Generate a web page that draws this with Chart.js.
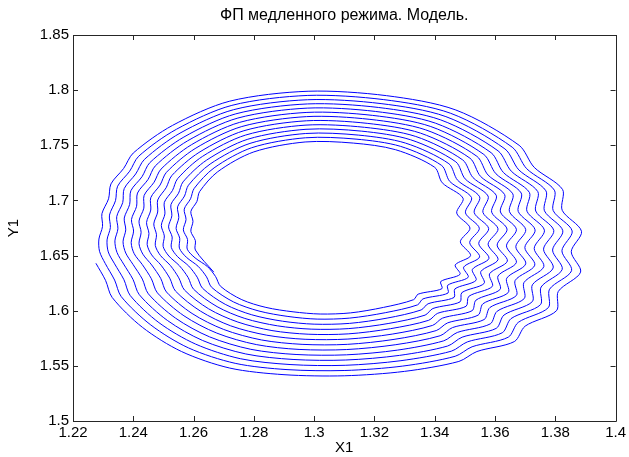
<!DOCTYPE html>
<html>
<head>
<meta charset="utf-8">
<script src="https://cdn.jsdelivr.net/npm/chart.js@4.4.1/dist/chart.umd.min.js"></script>
<style>
  html, body { margin: 0; padding: 0; background: #ffffff; }
  #wrap { width: 629px; height: 457px; }
</style>
</head>
<body>
<div id="wrap"><canvas id="c" width="629" height="457"></canvas></div>
<script>
// ---- Data ----
const chartTitle = 'ФП медленного режима. Модель.';
const xAxisName = 'X1';
const yAxisName = 'Y1';

const xTickValues = [1.22, 1.24, 1.26, 1.28, 1.30, 1.32, 1.34, 1.36, 1.38, 1.40];
const xTickLabels = ['1.22', '1.24', '1.26', '1.28', '1.3', '1.32', '1.34', '1.36', '1.38', '1.4'];
const yTickValues = [1.50, 1.55, 1.60, 1.65, 1.70, 1.75, 1.80, 1.85];
const yTickLabels = ['1.5', '1.55', '1.6', '1.65', '1.7', '1.75', '1.8', '1.85'];

// trajectory X1 (one line per turn of the spiral, outer to inner)
const X1 = [
  1.2276,1.2308,1.2330,1.2430,1.2560,1.2720,1.2900,1.3100,1.3300,1.3480,1.3540,1.3664,1.3700,1.3804,1.3810,1.3884,1.3853,1.3887,1.3823,1.3824,1.3730,1.3680,1.3470,1.3240,1.2980,1.2720,1.2530,1.2400,1.2368,1.2326,1.2318,1.2296,1.2298,1.2286,1.2288,
  1.2307,1.2338,1.2360,1.2458,1.2583,1.2738,1.2910,1.3102,1.3294,1.3468,1.3524,1.3644,1.3677,1.3777,1.3781,1.3854,1.3822,1.3856,1.3793,1.3797,1.3705,1.3657,1.3453,1.3231,1.2979,1.2727,1.2543,1.2418,1.2388,1.2348,1.2341,1.2321,1.2324,1.2313,1.2317,
  1.2338,1.2369,1.2390,1.2485,1.2607,1.2755,1.2920,1.3103,1.3288,1.3455,1.3508,1.3624,1.3653,1.3751,1.3753,1.3823,1.3791,1.3825,1.3764,1.3769,1.3679,1.3633,1.3437,1.3222,1.2978,1.2733,1.2555,1.2437,1.2408,1.2370,1.2365,1.2345,1.2349,1.2339,1.2346,
  1.2368,1.2399,1.2420,1.2513,1.2630,1.2773,1.2930,1.3105,1.3283,1.3443,1.3491,1.3604,1.3630,1.3724,1.3724,1.3793,1.3761,1.3795,1.3735,1.3742,1.3654,1.3610,1.3420,1.3213,1.2978,1.2740,1.2568,1.2455,1.2429,1.2392,1.2388,1.2370,1.2375,1.2366,1.2375,
  1.2399,1.2430,1.2450,1.2540,1.2653,1.2790,1.2940,1.3107,1.3277,1.3430,1.3475,1.3584,1.3607,1.3697,1.3696,1.3762,1.3730,1.3764,1.3706,1.3714,1.3628,1.3587,1.3403,1.3203,1.2977,1.2747,1.2580,1.2473,1.2449,1.2414,1.2411,1.2394,1.2401,1.2393,1.2403,
  1.2430,1.2460,1.2480,1.2568,1.2677,1.2808,1.2950,1.3108,1.3271,1.3418,1.3459,1.3564,1.3583,1.3671,1.3667,1.3732,1.3699,1.3733,1.3677,1.3687,1.3603,1.3563,1.3387,1.3194,1.2976,1.2753,1.2593,1.2492,1.2469,1.2436,1.2435,1.2419,1.2426,1.2419,1.2432,
  1.2461,1.2491,1.2510,1.2595,1.2700,1.2825,1.2960,1.3110,1.3265,1.3405,1.3443,1.3544,1.3560,1.3644,1.3639,1.3702,1.3669,1.3702,1.3648,1.3659,1.3577,1.3540,1.3370,1.3185,1.2975,1.2760,1.2605,1.2510,1.2489,1.2458,1.2458,1.2444,1.2452,1.2446,1.2461,
  1.2492,1.2521,1.2540,1.2623,1.2723,1.2843,1.2970,1.3112,1.3259,1.3393,1.3426,1.3524,1.3537,1.3617,1.3610,1.3671,1.3638,1.3671,1.3618,1.3632,1.3552,1.3517,1.3353,1.3176,1.2974,1.2767,1.2618,1.2528,1.2509,1.2481,1.2481,1.2468,1.2477,1.2473,1.2490,
  1.2523,1.2551,1.2570,1.2650,1.2747,1.2860,1.2980,1.3113,1.3253,1.3380,1.3410,1.3504,1.3513,1.3591,1.3582,1.3641,1.3607,1.3640,1.3589,1.3604,1.3527,1.3493,1.3337,1.3167,1.2973,1.2773,1.2630,1.2547,1.2530,1.2503,1.2505,1.2493,1.2503,1.2499,1.2518,
  1.2553,1.2582,1.2600,1.2678,1.2770,1.2878,1.2990,1.3115,1.3248,1.3368,1.3394,1.3484,1.3490,1.3564,1.3553,1.3610,1.3577,1.3610,1.3560,1.3577,1.3501,1.3470,1.3320,1.3158,1.2973,1.2780,1.2643,1.2565,1.2550,1.2525,1.2528,1.2517,1.2529,1.2526,1.2547,
  1.2584,1.2612,1.2630,1.2705,1.2793,1.2895,1.3000,1.3117,1.3242,1.3355,1.3378,1.3464,1.3467,1.3537,1.3525,1.3580,1.3546,1.3579,1.3531,1.3549,1.3476,1.3447,1.3303,1.3148,1.2972,1.2787,1.2655,1.2583,1.2570,1.2547,1.2551,1.2542,1.2554,1.2553,1.2576,
  1.2615,1.2643,1.2660,1.2733,1.2817,1.2913,1.3010,1.3118,1.3236,1.3343,1.3361,1.3444,1.3443,1.3511,1.3496,1.3549,1.3516,1.3548,1.3502,1.3522,1.3450,1.3423,1.3287,1.3139,1.2971,1.2793,1.2668,1.2602,1.2590,1.2569,1.2575,1.2566,1.2580,1.2579,1.2605,
  1.2646,1.2673,1.2690,1.2760,1.2840,1.2930,1.3020,1.3120,1.3230,1.3330,1.3345,1.3424,1.3420,1.3484,1.3468,1.3519,1.3485,1.3517,1.3473,1.3494,1.3425,1.3400,1.3270,1.3130,1.2970,1.2800,1.2680,1.2620,1.2611,1.2591,1.2598,1.2591,1.2606,1.2606,
  1.2667
];

// trajectory Y1
const Y1 = [
  1.6430,1.6275,1.6120,1.5850,1.5630,1.5480,1.5420,1.5410,1.5450,1.5540,1.5630,1.5720,1.5860,1.6000,1.6175,1.6350,1.6535,1.6720,1.6910,1.7100,1.7300,1.7500,1.7820,1.7950,1.7990,1.7900,1.7680,1.7430,1.7290,1.7150,1.7015,1.6880,1.6765,1.6650,1.6539,
  1.6428,1.6278,1.6128,1.5871,1.5663,1.5523,1.5466,1.5458,1.5498,1.5587,1.5673,1.5760,1.5894,1.6028,1.6195,1.6363,1.6543,1.6723,1.6908,1.7093,1.7288,1.7483,1.7790,1.7914,1.7952,1.7862,1.7645,1.7401,1.7265,1.7129,1.6998,1.6867,1.6754,1.6642,1.6533,
  1.6425,1.6281,1.6137,1.5892,1.5697,1.5565,1.5512,1.5505,1.5547,1.5633,1.5717,1.5800,1.5928,1.6055,1.6215,1.6375,1.6550,1.6725,1.6906,1.7087,1.7277,1.7467,1.7760,1.7878,1.7913,1.7823,1.7610,1.7372,1.7240,1.7108,1.6981,1.6853,1.6743,1.6633,1.6528,
  1.6423,1.6284,1.6145,1.5912,1.5730,1.5608,1.5558,1.5553,1.5595,1.5680,1.5760,1.5840,1.5961,1.6083,1.6235,1.6388,1.6558,1.6728,1.6904,1.7080,1.7265,1.7450,1.7730,1.7843,1.7875,1.7785,1.7575,1.7343,1.7215,1.7088,1.6964,1.6840,1.6733,1.6625,1.6523,
  1.6420,1.6287,1.6153,1.5933,1.5763,1.5650,1.5603,1.5600,1.5643,1.5727,1.5803,1.5880,1.5995,1.6110,1.6255,1.6400,1.6565,1.6730,1.6902,1.7073,1.7253,1.7433,1.7700,1.7807,1.7837,1.7747,1.7540,1.7313,1.7190,1.7067,1.6947,1.6827,1.6722,1.6617,1.6517,
  1.6418,1.6290,1.6162,1.5954,1.5797,1.5693,1.5649,1.5648,1.5692,1.5773,1.5847,1.5920,1.6029,1.6138,1.6275,1.6413,1.6573,1.6733,1.6900,1.7067,1.7242,1.7417,1.7670,1.7771,1.7798,1.7708,1.7505,1.7284,1.7165,1.7046,1.6930,1.6813,1.6711,1.6608,1.6512,
  1.6415,1.6293,1.6170,1.5975,1.5830,1.5735,1.5695,1.5695,1.5740,1.5820,1.5890,1.5960,1.6063,1.6165,1.6295,1.6425,1.6580,1.6735,1.6898,1.7060,1.7230,1.7400,1.7640,1.7735,1.7760,1.7670,1.7470,1.7255,1.7140,1.7025,1.6913,1.6800,1.6700,1.6600,1.6506,
  1.6413,1.6295,1.6178,1.5996,1.5863,1.5778,1.5741,1.5743,1.5788,1.5867,1.5933,1.6000,1.6096,1.6193,1.6315,1.6438,1.6588,1.6738,1.6895,1.7053,1.7218,1.7383,1.7610,1.7699,1.7722,1.7632,1.7435,1.7226,1.7115,1.7004,1.6895,1.6787,1.6689,1.6592,1.6501,
  1.6410,1.6298,1.6187,1.6017,1.5897,1.5820,1.5787,1.5790,1.5837,1.5913,1.5977,1.6040,1.6130,1.6220,1.6335,1.6450,1.6595,1.6740,1.6893,1.7047,1.7207,1.7367,1.7580,1.7663,1.7683,1.7593,1.7400,1.7197,1.7090,1.6983,1.6878,1.6773,1.6678,1.6583,1.6496,
  1.6408,1.6301,1.6195,1.6037,1.5930,1.5863,1.5833,1.5838,1.5885,1.5960,1.6020,1.6080,1.6164,1.6248,1.6355,1.6463,1.6603,1.6743,1.6891,1.7040,1.7195,1.7350,1.7550,1.7628,1.7645,1.7555,1.7365,1.7168,1.7065,1.6963,1.6861,1.6760,1.6668,1.6575,1.6490,
  1.6405,1.6304,1.6203,1.6058,1.5963,1.5905,1.5878,1.5885,1.5933,1.6007,1.6063,1.6120,1.6198,1.6275,1.6375,1.6475,1.6610,1.6745,1.6889,1.7033,1.7183,1.7333,1.7520,1.7592,1.7607,1.7517,1.7330,1.7138,1.7040,1.6942,1.6844,1.6747,1.6657,1.6567,1.6485,
  1.6403,1.6307,1.6212,1.6079,1.5997,1.5948,1.5924,1.5933,1.5982,1.6053,1.6107,1.6160,1.6231,1.6303,1.6395,1.6488,1.6618,1.6748,1.6887,1.7027,1.7172,1.7317,1.7490,1.7556,1.7568,1.7478,1.7295,1.7109,1.7015,1.6921,1.6827,1.6733,1.6646,1.6558,1.6479,
  1.6400,1.6310,1.6220,1.6100,1.6030,1.5990,1.5970,1.5980,1.6030,1.6100,1.6150,1.6200,1.6265,1.6330,1.6415,1.6500,1.6625,1.6750,1.6885,1.7020,1.7160,1.7300,1.7460,1.7520,1.7530,1.7440,1.7260,1.7080,1.6990,1.6900,1.6810,1.6720,1.6635,1.6550,
  1.6350
];

// ---- Chart ----
const nPts = Math.min(X1.length, Y1.length);
const points = X1.slice(0, nPts).map((x, i) => ({ x: x, y: Y1[i] }));
const FONT = '"Liberation Sans", Arial, sans-serif';

const boxPlugin = {
  id: 'matlabBox',
  afterDraw(chart) {
    const ctx = chart.ctx;
    const a = chart.chartArea;
    const xs = chart.scales.x, ys = chart.scales.y;
    ctx.save();
    ctx.strokeStyle = '#262626';
    ctx.lineWidth = 1;
    ctx.beginPath();
    ctx.rect(Math.round(a.left) + 0.5, Math.round(a.top) + 0.5,
             Math.round(a.right - a.left), Math.round(a.bottom - a.top));
    ctx.stroke();
    const tl = 5;
    ctx.beginPath();
    xTickValues.forEach(v => {
      const px = Math.round(xs.getPixelForValue(v)) + 0.5;
      ctx.moveTo(px, a.bottom); ctx.lineTo(px, a.bottom - tl);
      ctx.moveTo(px, a.top); ctx.lineTo(px, a.top + tl);
    });
    yTickValues.forEach(v => {
      const py = Math.round(ys.getPixelForValue(v)) + 0.5;
      ctx.moveTo(a.left, py); ctx.lineTo(a.left + tl, py);
      ctx.moveTo(a.right, py); ctx.lineTo(a.right - tl, py);
    });
    ctx.stroke();
    ctx.restore();
  }
};

new Chart(document.getElementById('c'), {
  type: 'scatter',
  data: {
    datasets: [{
      data: points,
      showLine: true,
      borderColor: '#0000ff',
      borderWidth: 1,
      pointRadius: 0,
      pointHoverRadius: 0,
      tension: 0.3,
      fill: false
    }]
  },
  options: {
    responsive: false,
    animation: false,
    events: [],
    layout: { padding: { left: 0, right: 12, top: 0, bottom: 0 } },
    plugins: {
      legend: { display: false },
      tooltip: { enabled: false },
      title: { display: false }
    },
    scales: {
      x: {
        type: 'linear',
        min: 1.22, max: 1.40,
        afterBuildTicks: (s) => { s.ticks = xTickValues.map(v => ({ value: v })); },
        afterFit: (s) => { s.height = 36; },
        grid: { display: false, drawTicks: false },
        border: { display: false },
        ticks: {
          color: '#000000',
          padding: 3,
          maxRotation: 0,
          autoSkip: false,
          font: { family: FONT, size: 15 },
          callback: (v, i) => xTickLabels[i]
        },
        title: {
          display: true, text: xAxisName, color: '#000000',
          font: { family: FONT, size: 15 },
          padding: { top: 0, bottom: 0 }
        }
      },
      xTop: {
        type: 'linear',
        position: 'top',
        min: 1.22, max: 1.40,
        afterFit: (s) => { s.height = 35; },
        grid: { display: false, drawTicks: false },
        border: { display: false },
        ticks: { display: false },
        title: {
          display: true, text: chartTitle, color: '#000000',
          font: { family: FONT, size: 16 },
          padding: { top: 6, bottom: 0 }
        }
      },
      y: {
        type: 'linear',
        min: 1.50, max: 1.85,
        afterBuildTicks: (s) => { s.ticks = yTickValues.map(v => ({ value: v })); },
        afterFit: (s) => { s.width = 73; },
        grid: { display: false, drawTicks: false },
        border: { display: false },
        ticks: {
          color: '#000000',
          padding: 4,
          autoSkip: false,
          font: { family: FONT, size: 15 },
          callback: (v, i) => yTickLabels[i]
        },
        title: {
          display: true, text: yAxisName, color: '#000000',
          font: { family: FONT, size: 15 },
          padding: { top: 5, bottom: 0 }
        }
      }
    }
  },
  plugins: [boxPlugin]
});
</script>
</body>
</html>
